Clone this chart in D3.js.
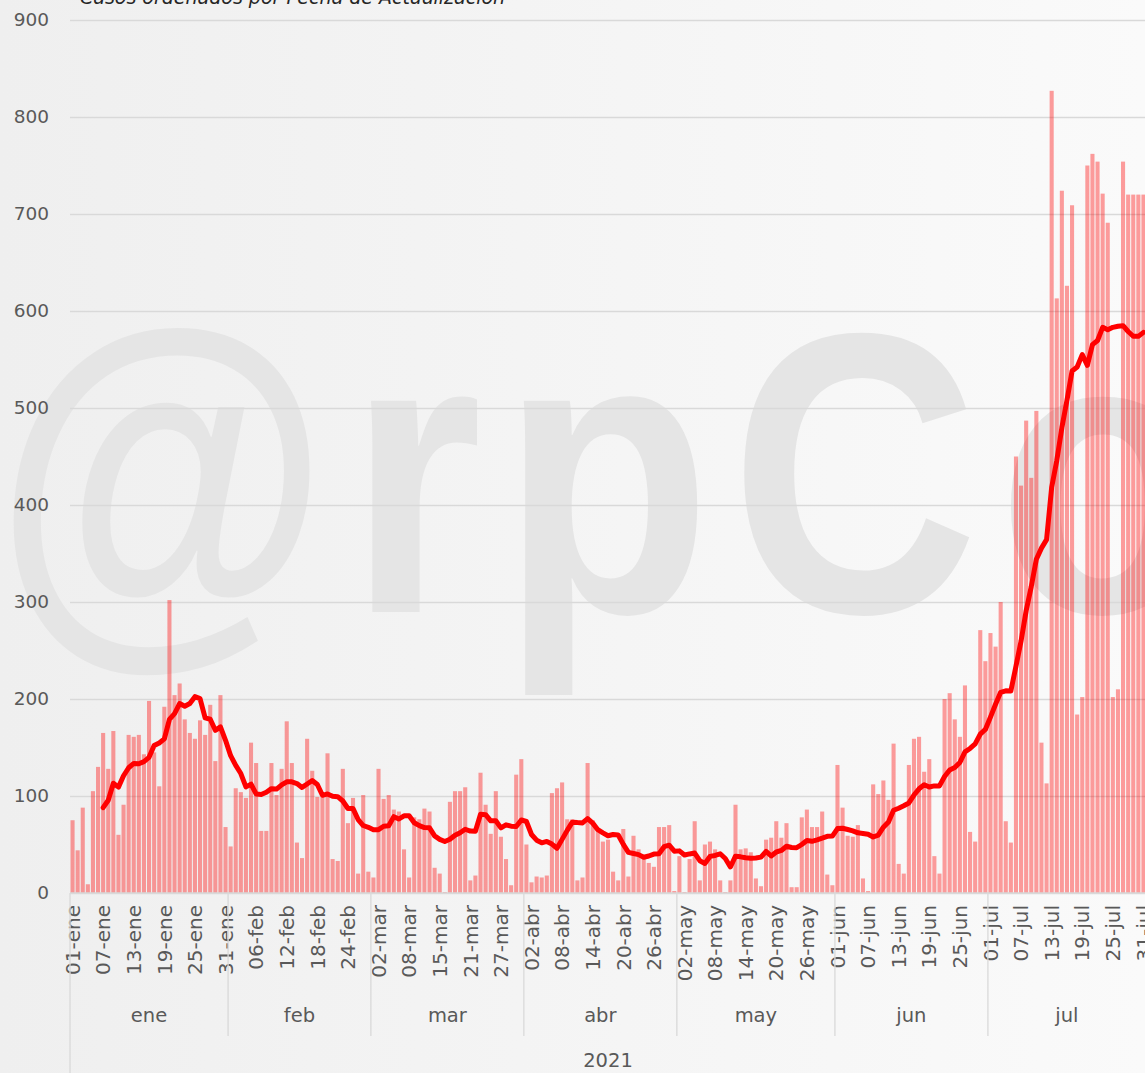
<!DOCTYPE html>
<meta charset="utf-8">
<style>
body { margin: 0; background: #f4f4f4; }
svg { display: block; }
.etiqueta { font-family: "DejaVu Sans", sans-serif; fill: #595959; }
.eje-y text { font-family: "DejaVu Sans", sans-serif; font-size: 18.5px; fill: #595959; }
.eje-y path, .grid path { display: none; }
.grid line { stroke: #d9d9d9; stroke-width: 1.3; }
</style>
<body>
<script src="https://d3js.org/d3.v7.min.js"></script>
<script>

var width = 1145,
    height = 1073;

var meses = ["ene", "feb", "mar", "abr", "may", "jun", "jul"];
var anio = "2021";
var diaOmitido = "2021-03-14";

var casosEne = [75, 44, 88, 9, 105, 130, 165, 128, 167, 60, 91, 163, 161, 163, 143, 198, 145, 110, 192, 302, 204, 216, 179, 165, 159, 178, 163, 194, 136, 204, 68];
var casosFeb = [48, 108, 104, 98, 155, 134, 64, 64, 134, 101, 128, 177, 134, 52, 36, 159, 126, 99, 99, 144, 35, 33, 128, 72, 98, 20, 101, 22];
var casosMar = [16, 128, 97, 101, 86, 84, 45, 16, 78, 76, 87, 84, 26, 20, 1, 94, 105, 105, 109, 13, 18, 124, 91, 61, 105, 58, 35, 8, 122, 138];
var casosAbr = [50, 11, 17, 16, 18, 103, 108, 114, 76, 76, 13, 16, 134, 75, 67, 53, 55, 22, 13, 66, 17, 59, 45, 36, 31, 27, 68, 68, 70, 2];
var casosMay = [38, 1, 35, 74, 13, 50, 53, 45, 13, 1, 13, 91, 45, 46, 42, 15, 7, 55, 57, 74, 57, 72, 6, 6, 78, 86, 68, 68, 84, 19, 8];
var casosJun = [132, 88, 59, 58, 70, 15, 2, 112, 102, 116, 96, 154, 30, 20, 132, 159, 161, 125, 138, 38, 20, 200, 206, 179, 161, 214, 63, 53, 271, 239];
var casosJul = [268, 254, 300, 74, 52, 450, 420, 487, 428, 497, 155, 113, 827, 613, 724, 626, 709, 184, 202, 750, 762, 754, 721, 691, 202, 210, 754, 720, 720, 720, 720];

var yTicks = [0, 100, 200, 300, 400, 500, 600, 700, 800, 900];

var casos = [].concat(casosEne, casosFeb, casosMar, casosAbr, casosMay, casosJun, casosJul);

var fmtDia = d3.timeFormat("%Y-%m-%d"),
    fmtNum = d3.timeFormat("%d");

var fechas = d3.timeDay.range(new Date(2021, 0, 1), new Date(2021, 7, 1))
    .filter(function(d) { return fmtDia(d) !== diaOmitido; });

var datos = casos.map(function(v, i) { return { i: i, fecha: fechas[i], valor: v }; });

// media movil de 7 dias, como la linea de tendencia de Excel
var media = datos.slice(6).map(function(d) {
  return { i: d.i, valor: d3.mean(casos.slice(d.i - 6, d.i + 1)) };
});

var plotL = 70, plotR = 1146, plotT = 20, plotB = 893;

var x = d3.scaleBand()
    .domain(d3.range(casos.length))
    .range([plotL, plotR])
    .paddingInner(0.2)
    .paddingOuter(0.1);

var y = d3.scaleLinear()
    .domain([0, 900])
    .range([plotB, plotT]);

var svg = d3.select("body").append("svg")
    .attr("width", width)
    .attr("height", height);

var grad = svg.append("defs").append("linearGradient")
    .attr("id", "fondo");
grad.append("stop").attr("offset", "0%").attr("stop-color", "#efefef");
grad.append("stop").attr("offset", "100%").attr("stop-color", "#fafafa");

svg.append("rect")
    .attr("width", width)
    .attr("height", height)
    .attr("fill", "url(#fondo)");

// marca de agua
svg.append("text")
    .attr("transform", "translate(-6,612) scale(0.86,1)")
    .style("font-family", "Liberation Sans, Arial, sans-serif")
    .style("font-weight", "bold")
    .style("font-size", "400px")
    .style("letter-spacing", "22px")
    .style("fill", "#e5e5e5")
    .text("@rpCo");

svg.append("text")
    .attr("class", "etiqueta")
    .attr("x", 80)
    .attr("y", 4)
    .style("font-size", "19px")
    .style("font-style", "italic")
    .style("fill", "#262626")
    .text("Casos ordenados por Fecha de Actualización");

svg.append("g")
    .attr("class", "grid")
    .attr("transform", "translate(" + plotL + ",0)")
    .call(d3.axisRight(y).tickValues(yTicks).tickSize(plotR - plotL).tickFormat(""));

svg.append("g")
    .attr("class", "eje-y")
    .attr("transform", "translate(49,0)")
    .call(d3.axisLeft(y).tickValues(yTicks).tickSize(0).tickPadding(0));

svg.append("g")
  .selectAll("rect")
    .data(datos)
  .enter().append("rect")
    .attr("x", function(d) { return x(d.i); })
    .attr("width", x.bandwidth())
    .attr("y", function(d) { return y(d.valor); })
    .attr("height", function(d) { return y(0) - y(d.valor); })
    .attr("fill", "#ff0000")
    .attr("fill-opacity", 0.38);

var linea = d3.line()
    .x(function(d) { return x(d.i) + x.bandwidth() / 2; })
    .y(function(d) { return y(d.valor); });

svg.append("path")
    .datum(media)
    .attr("d", linea)
    .attr("fill", "none")
    .attr("stroke", "#ff0000")
    .attr("stroke-width", 5)
    .attr("stroke-linejoin", "round")
    .attr("stroke-linecap", "round");

// eje de categorias en varios niveles
var step = x.step(),
    borde = function(i) { return x(i) - step * x.paddingInner() / 2; };

svg.append("line")
    .attr("x1", plotL).attr("x2", plotR)
    .attr("y1", plotB).attr("y2", plotB)
    .attr("stroke", "#d9d9d9").attr("stroke-width", 1.3);

svg.append("g")
  .selectAll("text")
    .data(datos.filter(function(d) { return d.i % 6 === 0; }))
  .enter().append("text")
    .attr("class", "etiqueta")
    .attr("transform", function(d) {
      return "translate(" + (x(d.i) + x.bandwidth() / 2) + ",905) rotate(-90)";
    })
    .attr("dy", "0.36em")
    .attr("text-anchor", "end")
    .style("font-size", "20px")
    .text(function(d) { return fmtNum(d.fecha) + "-" + meses[d.fecha.getMonth()]; });

var grupos = meses.map(function(m, k) {
  var idx = datos.filter(function(d) { return d.fecha.getMonth() === k; }).map(function(d) { return d.i; });
  return { mes: m, ini: d3.min(idx), fin: d3.max(idx) };
});

svg.append("g")
  .selectAll("line")
    .data(grupos)
  .enter().append("line")
    .attr("x1", function(g) { return borde(g.ini); })
    .attr("x2", function(g) { return borde(g.ini); })
    .attr("y1", plotB)
    .attr("y2", function(g, k) { return k === 0 ? height : 1036; })
    .attr("stroke", "#d9d9d9").attr("stroke-width", 1.3);

svg.append("g")
  .selectAll("text")
    .data(grupos)
  .enter().append("text")
    .attr("class", "etiqueta")
    .attr("x", function(g) { return (borde(g.ini) + borde(g.fin) + step) / 2; })
    .attr("y", 1022)
    .attr("text-anchor", "middle")
    .style("font-size", "19.5px")
    .text(function(g) { return g.mes; });

svg.append("text")
    .attr("class", "etiqueta")
    .attr("x", (plotL + plotR) / 2)
    .attr("y", 1067)
    .attr("text-anchor", "middle")
    .style("font-size", "19.5px")
    .text(anio);

</script>
